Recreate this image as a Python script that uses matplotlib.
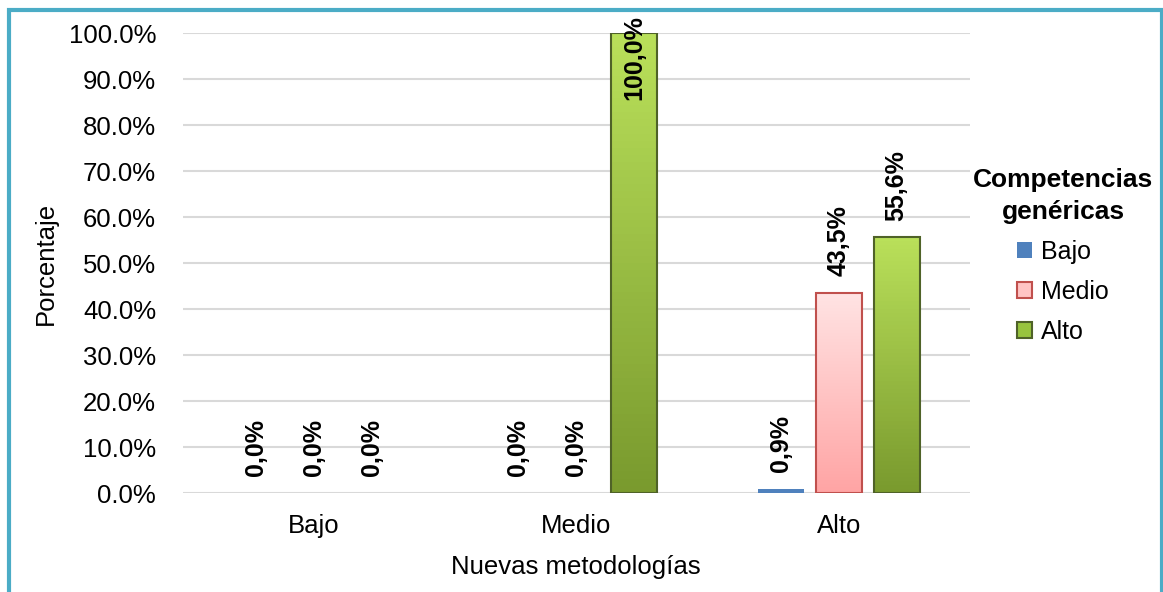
import numpy as np
import matplotlib.pyplot as plt
from matplotlib.patches import Rectangle
from matplotlib.colors import LinearSegmentedColormap
from matplotlib.ticker import FuncFormatter

plt.rcParams['font.family'] = ['Liberation Sans', 'DejaVu Sans']

# datos
metodologias = ['Bajo', 'Medio', 'Alto']
competencias = ['Bajo', 'Medio', 'Alto']
bajo = [0.0, 0.0, 0.009]
medio = [0.0, 0.0, 0.435]
alto = [0.0, 1.0, 0.556]
series = [bajo, medio, alto]

caras = ['#4f81bd', '#ffc4c4', '#98c43e']
bordes = ['#4f81bd', '#c0504d', '#4f6228']
degradados = [None, ('#ffe4e4', '#ffa4a4'), ('#b9e05a', '#7a9a2e')]

fig = plt.figure(figsize=(11.63, 5.92), dpi=100)
ax = fig.add_axes([0.157, 0.167, 0.677, 0.777])

x = np.arange(len(metodologias))
ancho = 0.176
paso = 0.221

handles = []
for i, (vals, nombre) in enumerate(zip(series, competencias)):
    pos = x + (i - 1) * paso
    barras = ax.bar(pos, vals, ancho, color=caras[i], edgecolor=bordes[i],
                    linewidth=0, label=nombre, zorder=3)
    handles.append(Rectangle((0, 0), 1, 1, facecolor=caras[i], edgecolor=bordes[i],
                             linewidth=1.5 if i else 0))
    if degradados[i] is not None:
        cmap = LinearSegmentedColormap.from_list('g%d' % i, [degradados[i][1], degradados[i][0]])
        grad = np.linspace(0, 1, 64).reshape(-1, 1)
        for b in barras:
            if b.get_height() <= 0:
                continue
            x0, y0 = b.get_x(), b.get_y()
            img = ax.imshow(grad, cmap=cmap, origin='lower', aspect='auto',
                            extent=[x0, x0 + b.get_width(), y0, y0 + b.get_height()],
                            zorder=3.5)
            img.set_clip_path(b)
            ax.add_patch(Rectangle((x0, y0), b.get_width(), b.get_height(),
                                   fill=False, edgecolor=bordes[i], linewidth=1.5, zorder=4))
    # etiquetas de valor
    for px, v in zip(pos, vals):
        txt = ('%.1f%%' % (v * 100)).replace('.', ',')
        if v >= 1.0:
            ax.annotate(txt, xy=(px, v), xytext=(0, 13), textcoords='offset points',
                        rotation=90, ha='center', va='top', fontsize=18,
                        fontweight='bold', zorder=6, annotation_clip=False)
        else:
            ax.annotate(txt, xy=(px, v), xytext=(0, 12), textcoords='offset points',
                        rotation=90, ha='center', va='bottom', fontsize=18,
                        fontweight='bold', zorder=6)

ax.set_xlim(-0.5, 2.5)
ax.set_ylim(0, 1.0)
ax.set_yticks(np.arange(0, 1.01, 0.1))
ax.yaxis.set_major_formatter(FuncFormatter(lambda v, p: '%.1f%%' % (v * 100)))
ax.set_xticks(x)
ax.set_xticklabels(metodologias)
ax.tick_params(axis='both', length=0, labelsize=18.5)
ax.tick_params(axis='y', pad=19)
ax.tick_params(axis='x', pad=15)
ax.grid(axis='y', color='#d9d9d9', linewidth=1.5, zorder=0)
for s in ax.spines.values():
    s.set_visible(False)

ax.set_xlabel('Nuevas metodologías', fontsize=18.5, labelpad=12)
ax.set_ylabel('Porcentaje', fontsize=18.5, labelpad=8)

leg = fig.legend(handles=handles, labels=competencias, loc='upper center',
                 bbox_to_anchor=(0.914, 0.776),
                 frameon=False, fontsize=18, title='Competencias\ngenéricas',
                 title_fontproperties={'weight': 'bold', 'size': 19},
                 handlelength=0.6, handleheight=0.6, handletextpad=0.35,
                 labelspacing=0.64, borderpad=0.9)
leg.get_title().set_multialignment('center')
leg.get_title().set_linespacing(1.45)

# marco del grafico
fig.patches.append(Rectangle((9 / 1163, -0.05), 1152.5 / 1163, 1.05 - 9.5 / 592,
                             transform=fig.transFigure, fill=False,
                             edgecolor='#4bacc6', linewidth=3))

fig.savefig('out.png', dpi=100)
